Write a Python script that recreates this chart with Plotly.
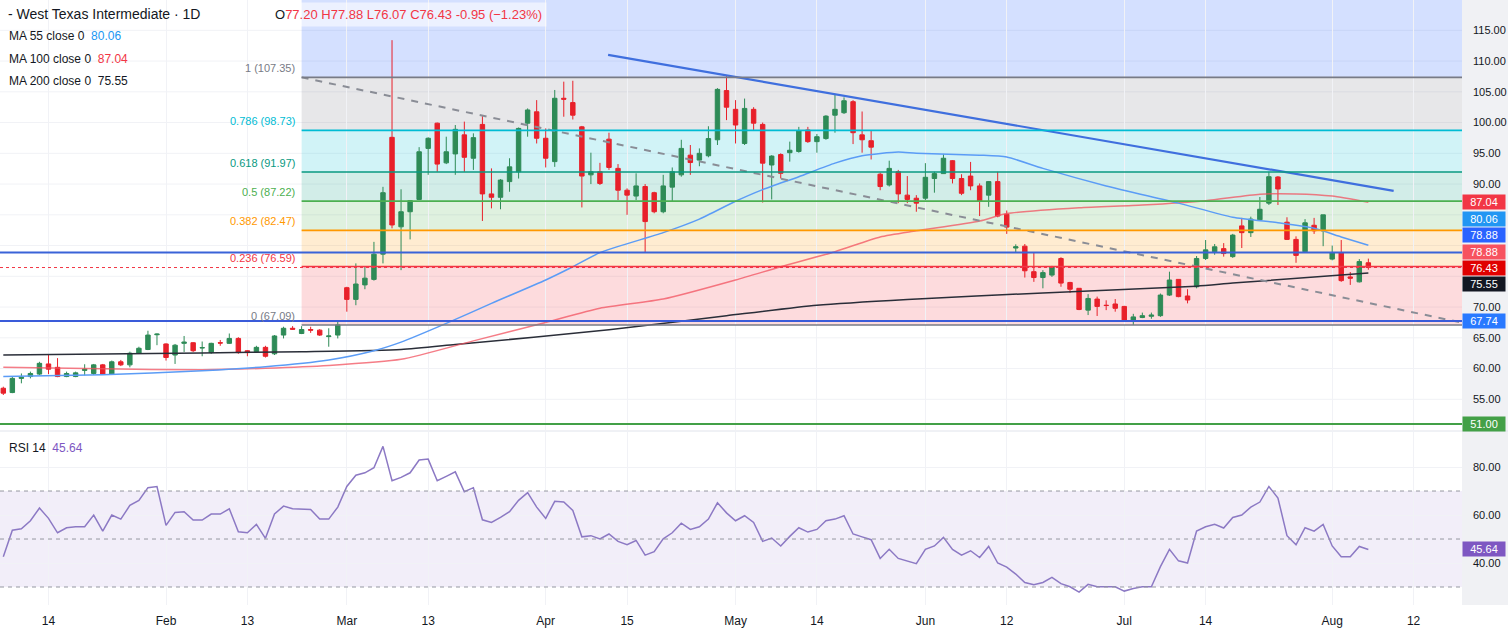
import plotly.graph_objects as go

W, H = 1508, 631
PLOT_W = 1462  # plot area width in px (right price axis beyond)

# ---------------- data ----------------
opens = [56.8, 56.1, 58.4, 58.7, 59.1, 60.75, 60.2, 58.7, 58.7, 59.7, 59.2, 60.6, 59.1, 61.1, 60.6, 62.5, 63.1, 65.5, 64.0, 62.2,
         64.1, 64.2, 63.35, 62.6, 64.2, 64.1, 64.9, 62.9, 62.75, 63.45, 62.4, 65.45, 66.55, 65.7, 66.35, 66.25, 65.2, 65.45,
         73.15, 71.25, 73.6, 74.5, 78.6, 97.6, 83.05, 85.5, 87.5, 95.8, 99.9, 93.45, 94.9, 98.0, 94.2, 99.7, 88.4, 87.85, 90.4,
         92.0, 99.9, 101.75, 97.45, 93.65, 103.95, 103.25, 99.3, 91.5, 92.0,
         97.3, 92.55, 89.0, 88.05, 89.6, 88.6, 85.5, 89.5, 91.5, 94.7, 93.9, 94.6, 97.2, 105.2, 102.15, 96.6, 102.15, 99.7, 93.1,
         94.8, 95.1, 95.3, 98.8, 96.9, 97.4, 101.2, 101.6, 103.4, 98.0, 97.05, 91.6, 89.85, 92.0, 88.2,
         87.7, 87.7, 90.9, 91.7, 93.8, 90.9, 91.3, 89.7, 88.2, 90.4, 85.1, 79.6, 79.9, 75.75, 74.8, 75.2, 77.9, 74.0, 73.05, 69.5,
         71.3, 70.3, 70.5, 70.1, 67.9, 68.3, 68.5, 68.6, 71.95, 74.5, 71.8, 73.3, 77.9, 79.0, 79.5,
         78.2, 83.2, 82.1, 84.2, 86.9, 91.15, 83.8, 81.0, 79.0, 83.3, 82.4, 77.8, 78.8, 74.9, 74.1, 77.20]
highs = [57.05, 58.7, 59.2, 59.5, 61.1, 62.2, 61.7, 59.5, 59.5, 60.7, 60.75, 60.75, 61.3, 61.4, 62.75, 63.55, 66.15, 65.7, 64.1, 64.0,
         65.3, 64.3, 64.4, 64.2, 64.65, 65.7, 65.1, 63.0, 63.7, 63.7, 65.45, 66.8, 66.9, 66.9, 66.8, 66.4, 66.55, 67.6,
         73.3, 77.1, 76.55, 80.6, 89.55, 113.4, 89.15, 87.4, 96.0, 97.6, 100.0, 97.7, 99.6, 100.15, 98.25, 101.05, 92.55, 90.8, 94.2,
         99.2, 102.3, 103.65, 99.05, 105.3, 106.65, 106.8, 99.45, 95.1, 93.45,
         98.35, 93.25, 89.3, 91.75, 90.0, 88.75, 91.5, 92.7, 97.2, 96.35, 95.8, 99.4, 105.6, 107.55, 103.65, 103.9, 102.5, 100.0, 94.7,
         95.0, 96.9, 99.3, 99.3, 98.15, 101.2, 104.6, 104.1, 103.65, 101.8, 98.7, 91.85, 93.8, 92.3, 91.3,
         88.2, 93.4, 92.0, 94.9, 93.9, 91.6, 93.6, 90.1, 90.5, 92.0, 85.7, 80.2, 80.25, 78.8, 76.0, 76.7, 78.1, 74.1, 73.05, 72.1,
         71.7, 71.1, 71.3, 70.2, 68.9, 69.1, 69.1, 72.2, 75.75, 74.5, 72.9, 78.3, 80.9, 80.25, 80.4,
         81.9, 84.5, 84.7, 87.9, 92.0, 91.3, 84.6, 81.5, 84.3, 84.5, 85.0, 80.0, 80.9, 75.7, 77.8, 77.88]
lows = [55.7, 56.0, 57.6, 58.4, 58.95, 59.1, 58.6, 58.6, 58.6, 58.9, 58.95, 58.95, 58.95, 60.4, 60.2, 62.4, 63.0, 63.8, 61.3, 60.75,
        62.7, 62.7, 62.0, 62.4, 63.7, 64.0, 62.4, 62.0, 62.75, 61.8, 62.2, 64.9, 66.3, 65.6, 65.8, 65.3, 63.55, 64.9,
        69.25, 70.3, 72.9, 74.3, 77.1, 82.8, 76.0, 81.0, 87.4, 91.5, 92.0, 93.25, 91.5, 92.0, 92.3, 84.0, 86.05, 85.9, 88.75,
        90.9, 97.7, 96.6, 92.7, 92.8, 100.95, 100.5, 86.2, 90.0, 89.85,
        92.3, 87.4, 85.0, 87.4, 78.8, 85.25, 85.25, 87.1, 91.2, 91.5, 92.9, 94.35, 96.35, 100.4, 96.6, 96.35, 98.8, 87.0, 87.5,
        90.9, 93.65, 95.1, 96.7, 95.1, 97.2, 98.35, 101.4, 96.5, 95.1, 94.0, 89.0, 89.6, 86.9, 86.9,
        85.5, 87.4, 88.6, 91.7, 90.1, 88.2, 89.0, 84.8, 86.3, 84.6, 81.9, 78.9, 74.8, 74.1, 73.05, 74.9, 73.3, 72.3, 69.5, 68.7,
        68.55, 69.5, 69.25, 67.8, 67.1, 68.2, 68.1, 68.4, 71.8, 71.6, 70.6, 73.05, 77.65, 78.5, 78.2,
        78.0, 79.6, 81.4, 84.0, 86.6, 86.6, 80.9, 77.2, 78.8, 81.9, 79.9, 77.6, 74.1, 73.6, 74.0, 76.07]
closes = [56.0, 58.4, 58.6, 59.2, 60.85, 59.9, 58.7, 59.2, 59.3, 59.9, 60.6, 59.1, 61.1, 60.6, 62.5, 63.3, 65.45, 65.6, 61.8, 63.8,
          64.3, 62.9, 63.4, 64.1, 64.15, 64.9, 62.6, 62.6, 63.45, 62.0, 65.3, 66.55, 66.4, 66.35, 66.25, 65.45, 65.3, 67.1,
          71.25, 73.75, 74.7, 78.6, 88.6, 83.35, 85.5, 87.3, 95.25, 97.45, 93.25, 95.25, 98.9, 94.35, 97.55, 88.4, 87.85, 90.65, 92.8,
          99.05, 102.05, 97.45, 94.2, 103.95, 103.8, 101.2, 91.3, 92.0, 90.1,
          92.7, 89.0, 88.2, 89.7, 83.9, 85.5, 89.7, 92.0, 95.8, 93.5, 95.0, 97.4, 105.4, 102.5, 99.6, 102.3, 99.9, 93.4, 94.55,
          91.75, 95.5, 98.7, 96.9, 97.7, 101.05, 102.15, 103.55, 98.35, 97.2, 96.0, 89.6, 92.55, 88.4, 87.5,
          86.9, 91.1, 91.7, 94.2, 90.9, 88.5, 89.7, 87.2, 90.4, 84.8, 83.0, 79.8, 75.9, 74.8, 75.6, 76.5, 73.9, 72.9, 69.6, 71.4,
          70.1, 70.25, 69.8, 67.9, 68.4, 68.6, 68.7, 71.95, 74.4, 71.7, 71.15, 77.9, 79.3, 79.8, 78.7,
          81.7, 82.1, 84.3, 85.9, 91.2, 89.2, 81.0, 78.4, 83.7, 82.4, 85.0, 78.8, 74.3, 74.7, 77.4, 76.43]
bars = list(range(len(closes)))

rsi = [42.6, 53.7, 54.3, 57.6, 62.9, 58.6, 52.6, 54.7, 55.1, 55.1, 60.0, 53.3, 60.0, 58.3, 64.0, 66.1, 71.4, 71.9, 55.7, 61.1,
       61.4, 57.9, 57.9, 60.4, 60.4, 62.6, 53.0, 52.6, 56.1, 50.3, 60.4, 63.7, 62.6, 62.6, 62.3, 58.3, 58.3, 63.3, 71.9, 76.6,
       77.6, 79.7, 88.6, 74.3, 75.7, 77.6, 82.9, 83.3, 74.3, 76.1, 78.0, 69.7, 71.4, 58.0, 56.9, 59.0, 61.4, 66.1, 69.3, 63.3,
       58.6, 65.7, 65.4, 61.9, 50.9, 51.4, 50.0, 52.1, 49.0, 47.6, 49.4, 43.3, 44.7, 50.1, 52.6, 56.6, 54.0, 55.1, 58.3, 65.1,
       60.9, 57.6, 59.7, 56.9, 49.0, 50.4, 47.1, 51.1, 54.7, 52.9, 54.0, 57.6, 58.3, 59.7, 52.1, 50.9, 49.7, 41.9, 45.7, 41.9,
       40.9, 39.7, 45.7, 47.1, 50.7, 45.7, 43.3, 45.1, 42.3, 46.9, 40.0, 38.3, 35.4, 31.9, 30.9, 31.9, 34.0, 31.4, 30.1, 27.9,
       31.1, 30.1, 30.1, 30.1, 28.3, 29.4, 30.1, 30.1, 38.5, 45.7, 40.9, 40.0, 53.3, 55.1, 56.1, 54.6, 59.0, 60.0, 63.3, 65.4,
       71.9, 67.1, 51.4, 47.6, 54.7, 53.3, 56.1, 47.1, 42.6, 42.6, 46.9, 45.64]

ma55_x = [0, 11, 22, 29, 36, 41, 44, 49, 54, 60, 63, 66, 73, 77, 81, 84, 88, 92, 95, 99, 101, 108, 111, 115, 122, 130, 136, 141, 145, 148, 151]
ma55_y = [58.7, 59.0, 59.65, 60.3, 61.4, 62.9, 64.3, 67.35, 70.6, 74.4, 76.55, 78.85, 82.1, 84.3, 87.2, 89.1, 91.2, 93.4, 94.6, 95.2, 95.0, 94.7, 94.4, 92.55, 89.7, 86.9, 84.6, 83.7, 82.8, 81.4, 80.06]
ma100_x = [0, 11, 22, 29, 36, 44, 52, 60, 66, 73, 81, 86, 92, 97, 101, 108, 111, 119, 126, 133, 139, 143, 147, 151]
ma100_y = [60.2, 59.95, 59.8, 60.05, 60.5, 61.5, 64.5, 67.5, 69.8, 71.3, 74.4, 76.55, 79.0, 81.4, 82.4, 84.0, 85.2, 86.15, 86.6, 87.3, 88.35, 88.4, 88.05, 87.04]
ma200_x = [0, 11, 22, 33, 44, 50, 67, 80, 90, 100, 115, 132, 136, 151]
ma200_y = [62.2, 62.35, 62.55, 62.75, 63.1, 63.9, 66.3, 68.6, 70.3, 71.25, 72.3, 73.4, 73.9, 75.55]

tick_bars = [5, 18, 27, 38, 47, 60, 69, 81, 90, 102, 111, 124, 133, 147, 156]
tick_labels = ["14", "Feb", "13", "Mar", "13", "Apr", "15", "May", "14", "Jun", "12", "Jul", "14", "Aug", "12"]
price_grid = [55, 60, 65, 70, 75, 80, 85, 90, 95, 100, 105, 110, 115]
price_ticks = [55, 60, 65, 70, 90, 95, 100, 105, 110, 115]  # 75-85 sit behind the value tags
rsi_ticks = [40, 60, 80]

fib_names = ["0", "0.236", "0.382", "0.5", "0.618", "0.786", "1"]
fib_prices = [67.09, 76.59, 82.47, 87.22, 91.97, 98.73, 107.35]
fib_colors = ["#787b86", "#f23645", "#ff9800", "#4caf50", "#089981", "#00bcd4", "#787b86"]
fib_rgb = [(120, 123, 134), (242, 54, 69), (255, 152, 0), (76, 175, 80), (8, 153, 129), (0, 188, 212), (120, 123, 134)]
fib_ext_rgb = (41, 98, 255)
fib_start = 33

trend_down_x = [66.9, 153.8]
trend_down_y = [111.0, 88.9]
trend_dash_x = [33, 161.4]
trend_dash_y = [107.35, 67.45]

hlines = [78.88, 67.74, 51.00]
hline_colors = ["#3a63d8", "#3a5bd9", "#43a047"]
last_price = 76.43

tags = [(87.04, "#f23645", 0), (80.06, "#2196f3", 26), (78.88, "#2962ff", 17), (78.88, "#f7525f", 0),
        (76.43, "#e00000", 0), (75.55, "#131722", -11), (67.74, "#2979ff", 0), (51.00, "#43a047", 0)]

# ---------------- layout geometry ----------------
X_LEFT, X_RIGHT = -0.365, 161.36
Y1_DOM = [1 - 430 / H, 1]
Y2_DOM = [1 - 605 / H, 1 - 432 / H]
FONT = "Liberation Sans"
grid = "#f1f2f6"

fig = go.Figure()

fig.add_trace(go.Candlestick(
    x=bars, open=opens, high=highs, low=lows, close=closes,
    increasing=dict(line=dict(color="#2e8b57", width=1), fillcolor="#2e8b57"),
    decreasing=dict(line=dict(color="#e8202a", width=1), fillcolor="#e8202a"),
    whiskerwidth=0, hoverinfo="skip", xaxis="x", yaxis="y"))

for xs, ys, col in [(ma200_x, ma200_y, "#2a2e39"), (ma100_x, ma100_y, "rgba(242,82,95,0.75)"), (ma55_x, ma55_y, "#5b9cf6")]:
    fig.add_trace(go.Scatter(x=xs, y=ys, mode="lines", line=dict(color=col, width=1.5, shape="spline", smoothing=0.6),
                             hoverinfo="skip", xaxis="x", yaxis="y"))

fig.add_trace(go.Scatter(x=trend_dash_x, y=trend_dash_y, mode="lines",
                         line=dict(color="#8a8d96", width=2, dash="7px,7px"), hoverinfo="skip", xaxis="x", yaxis="y"))
fig.add_trace(go.Scatter(x=trend_down_x, y=trend_down_y, mode="lines",
                         line=dict(color="#3f6fde", width=2.2), hoverinfo="skip", xaxis="x", yaxis="y"))

fig.add_trace(go.Scatter(x=bars, y=rsi, mode="lines", line=dict(color="#8c79c4", width=1.5),
                         hoverinfo="skip", xaxis="x2", yaxis="y2"))

shapes = []
# right axis background
shapes.append(dict(type="rect", xref="paper", yref="paper", x0=1, x1=W / PLOT_W, y0=Y2_DOM[0], y1=1,
                   fillcolor="#f0f1f4", line=dict(width=0), layer="below"))


def rgba(c, a):
    return "rgba(%d,%d,%d,%.2f)" % (c[0], c[1], c[2], a)


# faint price gridlines (including levels hidden behind tags)
for g in price_grid:
    shapes.append(dict(type="line", xref="x domain", yref="y", x0=0, x1=1, y0=g, y1=g,
                       line=dict(color=grid, width=1), layer="below"))
# fib zones
for i in range(len(fib_prices) - 1):
    shapes.append(dict(type="rect", xref="x", yref="y", x0=fib_start, x1=X_RIGHT, y0=fib_prices[i], y1=fib_prices[i + 1],
                       fillcolor=rgba(fib_rgb[i + 1], 0.18), line=dict(width=0), layer="below"))
shapes.append(dict(type="rect", xref="x", yref="y", x0=fib_start, x1=X_RIGHT, y0=fib_prices[-1], y1=119.93,
                   fillcolor=rgba(fib_ext_rgb, 0.2), line=dict(width=0), layer="below"))
# price line (dotted)
shapes.append(dict(type="line", xref="x domain", yref="y", x0=0, x1=1, y0=last_price, y1=last_price,
                   line=dict(color="#f23645", width=1, dash="dot")))
# fib lines
for p, c in zip(fib_prices, fib_colors):
    shapes.append(dict(type="line", xref="x", yref="y", x0=fib_start, x1=X_RIGHT, y0=p, y1=p,
                       line=dict(color=c, width=1.6)))
# horizontal levels
for p, c in zip(hlines, hline_colors):
    shapes.append(dict(type="line", xref="x domain", yref="y", x0=0, x1=1, y0=p, y1=p,
                       line=dict(color=c, width=2)))
# pane separator
shapes.append(dict(type="line", xref="paper", yref="paper", x0=0, x1=W / PLOT_W, y0=1 - 431 / H, y1=1 - 431 / H,
                   line=dict(color="#e0e3eb", width=1)))
# RSI band and dashed levels
shapes.append(dict(type="rect", xref="x2 domain", yref="y2", x0=0, x1=1, y0=30, y1=70,
                   fillcolor="rgba(126,87,194,0.10)", line=dict(width=0), layer="below"))
for lv in [70, 50, 30]:
    shapes.append(dict(type="line", xref="x2 domain", yref="y2", x0=0, x1=1, y0=lv, y1=lv,
                       line=dict(color="#9598a1", width=1, dash="4px,4px")))

ann = []


def px(x):
    return x / PLOT_W


def py(y):
    return 1 - y / H


ann.append(dict(xref="paper", yref="paper", x=px(6), y=py(14), xanchor="left", yanchor="middle",
                text="- West Texas Intermediate \u00b7 1D", showarrow=False, font=dict(size=14, color="#131722", family=FONT)))
ann.append(dict(xref="paper", yref="paper", x=px(270), y=py(14), xanchor="left", yanchor="middle",
                text="<span style='color:#131722'>O</span>77.20 H77.88 L76.07 C76.43 -0.95 (\u22121.23%)",
                showarrow=False, bgcolor="rgba(255,255,255,0.55)", borderpad=4,
                font=dict(size=13, color="#f23645", family=FONT)))
ma_rows = [("MA 55 close 0", "80.06", "#2196f3", 36), ("MA 100 close 0", "87.04", "#f23645", 59),
           ("MA 200 close 0", "75.55", "#131722", 81)]
for lab, val, col, yy in ma_rows:
    ann.append(dict(xref="paper", yref="paper", x=px(7), y=py(yy), xanchor="left", yanchor="middle",
                    text="%s  <span style='color:%s'>%s</span>" % (lab, col, val), showarrow=False,
                    font=dict(size=12, color="#131722", family=FONT)))
ann.append(dict(xref="paper", yref="paper", x=px(7), y=py(448), xanchor="left", yanchor="middle",
                text="RSI 14  <span style='color:#7e57c2'>45.64</span>", showarrow=False,
                font=dict(size=12, color="#131722", family=FONT)))
# fib labels
for n, p, c in zip(fib_names, fib_prices, fib_colors):
    ann.append(dict(xref="x", yref="y", x=fib_start, y=p, xanchor="right", yanchor="bottom", xshift=-5, yshift=1,
                    text="%s (%.2f)" % (n, p), showarrow=False, font=dict(size=11, color=c, family=FONT)))
# right axis tags
for v, c, sh in tags:
    ann.append(dict(xref="paper", yref="y", x=1, y=v, xanchor="left", yanchor="middle", yshift=sh,
                    text="%.2f" % v, showarrow=False, bgcolor=c, width=40, height=12, borderpad=1,
                    font=dict(size=11, color="white", family=FONT)))
ann.append(dict(xref="paper", yref="y2", x=1, y=rsi[-1], xanchor="left", yanchor="middle",
                text="%.2f" % rsi[-1], showarrow=False, bgcolor="#7e57c2", width=40, height=12, borderpad=1,
                font=dict(size=11, color="white", family=FONT)))

fig.update_layout(
    width=W, height=H, margin=dict(l=0, r=W - PLOT_W, t=0, b=0, autoexpand=False),
    paper_bgcolor="white", plot_bgcolor="white", showlegend=False,
    font=dict(family=FONT, color="#131722"),
    xaxis=dict(domain=[0, 1], range=[X_LEFT, X_RIGHT], anchor="y", tickvals=tick_bars, showticklabels=False,
               showgrid=True, gridcolor=grid, zeroline=False, rangeslider=dict(visible=False), ticks=""),
    xaxis2=dict(domain=[0, 1], range=[X_LEFT, X_RIGHT], anchor="y2", matches="x", tickvals=tick_bars,
                ticktext=tick_labels, showgrid=True, gridcolor=grid, zeroline=False, ticks="",
                tickfont=dict(size=12, color="#131722"), ticklabelstandoff=7),
    yaxis=dict(domain=Y1_DOM, range=[50.01, 119.93], side="right", tickvals=price_ticks, tickformat=".2f",
               showgrid=False, zeroline=False, ticks="", tickfont=dict(size=11, color="#131722"),
               ticklabelstandoff=10),
    yaxis2=dict(domain=Y2_DOM, range=[22.5, 94.6], side="right", tickvals=rsi_ticks, tickformat=".2f",
                showgrid=True, gridcolor=grid, zeroline=False, ticks="", tickfont=dict(size=11, color="#131722"),
                ticklabelstandoff=10),
    shapes=shapes, annotations=ann,
)

fig.write_html("out.html", config={"displayModeBar": False, "staticPlot": True},
               post_script="document.body.style.margin='0px';document.body.style.padding='0px';"
                           "document.body.style.overflow='hidden';")
